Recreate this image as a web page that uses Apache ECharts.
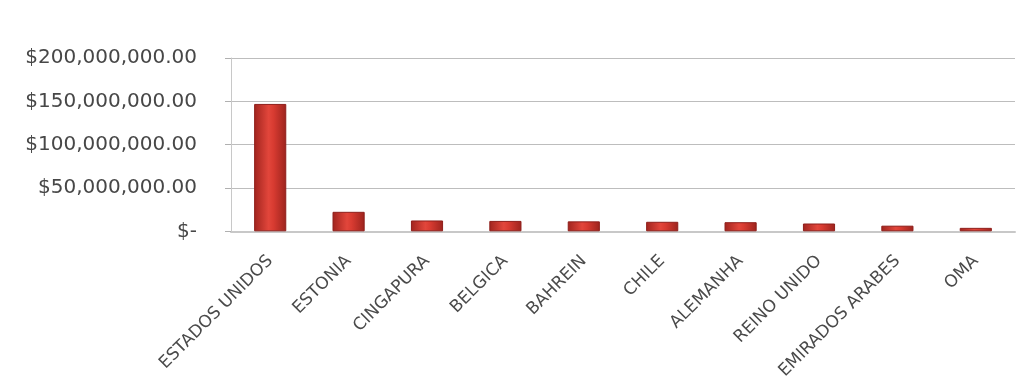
<!DOCTYPE html>
<html>
<head>
<meta charset="utf-8">
<script src="https://cdn.jsdelivr.net/npm/echarts@6/dist/echarts.min.js"></script>
<style>
  html, body { margin: 0; padding: 0; background: #ffffff; }
  #chart { width: 1018px; height: 382px; }
</style>
</head>
<body>
<div id="chart"></div>
<script>
// Countries and their values (US dollars)
const countries = ['ESTADOS UNIDOS', 'ESTONIA', 'CINGAPURA', 'BELGICA', 'BAHREIN', 'CHILE', 'ALEMANHA', 'REINO UNIDO', 'EMIRADOS ARABES', 'OMA'];
const values = [147000000, 22500000, 12500000, 12000000, 11500000, 11000000, 10500000, 9000000, 6500000, 4000000];
const yTicks = [0, 50000000, 100000000, 150000000, 200000000];

function money(v) {
  if (v === 0) return '$-';
  return '$' + v.toLocaleString('en-US', { minimumFractionDigits: 2, maximumFractionDigits: 2 });
}

const chart = echarts.init(document.getElementById('chart'));
chart.setOption({
  animation: false,
  backgroundColor: '#ffffff',
  grid: { left: 231, right: 3, top: 58, bottom: 149, containLabel: false },
  xAxis: {
    type: 'category',
    data: countries,
    axisLine: { show: true, lineStyle: { color: '#c8c8c8', width: 2 } },
    axisTick: { show: false },
    axisLabel: {
      rotate: 45,
      interval: 0,
      margin: 27,
      color: '#4a4a4a',
      fontFamily: 'DejaVu Sans',
      fontSize: 17
    }
  },
  yAxis: {
    type: 'value',
    min: yTicks[0],
    max: yTicks[yTicks.length - 1],
    interval: 50000000,
    axisLine: { show: true, lineStyle: { color: '#c8c8c8', width: 1 } },
    axisTick: { show: true, length: 6, lineStyle: { color: '#b0b0b0' } },
    splitLine: { lineStyle: { color: '#bdbdbd', width: 1 } },
    axisLabel: {
      margin: 34,
      color: '#474747',
      fontFamily: 'DejaVu Sans',
      fontSize: 20,
      formatter: money
    }
  },
  series: [{
    type: 'bar',
    data: values,
    barWidth: '41%',
    itemStyle: {
      borderColor: '#8e1e1a',
      borderWidth: 1,
      color: new echarts.graphic.LinearGradient(0, 0, 1, 0, [
        { offset: 0, color: '#a0241e' },
        { offset: 0.45, color: '#e2463b' },
        { offset: 0.6, color: '#d83b31' },
        { offset: 1, color: '#9c231d' }
      ])
    }
  }]
});
</script>
</body>
</html>
